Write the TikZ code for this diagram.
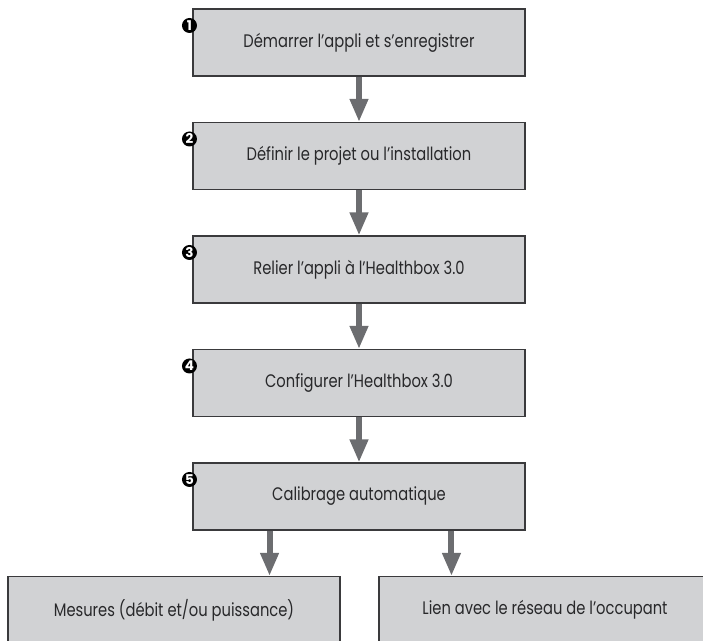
\documentclass[tikz,border=0pt]{standalone}
\usepackage{fontspec}
\setmainfont{Poppins}
\newfontfamily\stepfont[FakeStretch=0.81]{Poppins}
\usepackage{tikz}
\usetikzlibrary{arrows.meta}
\definecolor{boxgray}{RGB}{209,210,212}
\definecolor{edgegray}{RGB}{58,58,60}
\definecolor{flowgray}{RGB}{108,109,112}
\definecolor{inkgray}{RGB}{40,40,42}

\tikzset{
  stepbox/.style={draw=edgegray,line width=0.9pt,fill=boxgray,text=inkgray,
    minimum width=9.96cm,minimum height=2.01cm,inner sep=0pt,
    font=\stepfont\fontsize{15.5}{17}\selectfont},
  stepnum/.style={circle,fill=black,text=white,inner sep=0pt,
    minimum size=0.45cm,font=\fontsize{11.5}{11.5}\selectfont\bfseries},
  flow/.style={draw=flowgray,line width=0.18cm,
    -{Triangle[length=0.69cm,width=0.52cm]}}
}

\begin{document}
\begin{tikzpicture}[x=0.03cm,y=-0.03cm]
  \useasboundingbox (0,0) rectangle (703,640);
  \node[stepbox] (start)  at (359,42.5)  {Démarrer l’appli et s’enregistrer};
  \node[stepbox] (projet) at (359,156)   {Définir le projet ou l’installation};
  \node[stepbox] (relier) at (359,269.5) {Relier l’appli à l’Healthbox 3.0};
  \node[stepbox] (config) at (359,383)   {Configurer l’Healthbox 3.0};
  \node[stepbox] (calib)  at (359,496.5) {Calibrage automatique};
  \node[stepbox] (mesures) at (174,610)  {Mesures (débit et/ou puissance)};
  \node[stepbox] (lien)    at (545,610)  {Lien avec le réseau de l’occupant};

  % step numbers on the top left corners
  \node[stepnum] (n1) at ([shift={(-3,17)}]start.north west)  {1};
  \node[stepnum] (n2) at ([shift={(-3,17)}]projet.north west) {2};
  \node[stepnum] (n3) at ([shift={(-3,17)}]relier.north west) {3};
  \node[stepnum] (n4) at ([shift={(-3,17)}]config.north west) {4};
  \node[stepnum] (n5) at ([shift={(-3,17)}]calib.north west)  {5};

  \draw[flow] (start) -- (projet);
  \draw[flow] (projet) -- (relier);
  \draw[flow] (relier) -- (config);
  \draw[flow] (config) -- (calib);
  % the two branches leave the last step off centre
  \path (calib.south -| mesures.north east) ++(-71,0) coordinate (c1);
  \path (calib.south -| lien.north west) ++(73,0) coordinate (c2);
  \draw[flow] (c1) -- (c1 |- mesures.north);
  \draw[flow] (c2) -- (c2 |- lien.north);
\end{tikzpicture}
\end{document}
